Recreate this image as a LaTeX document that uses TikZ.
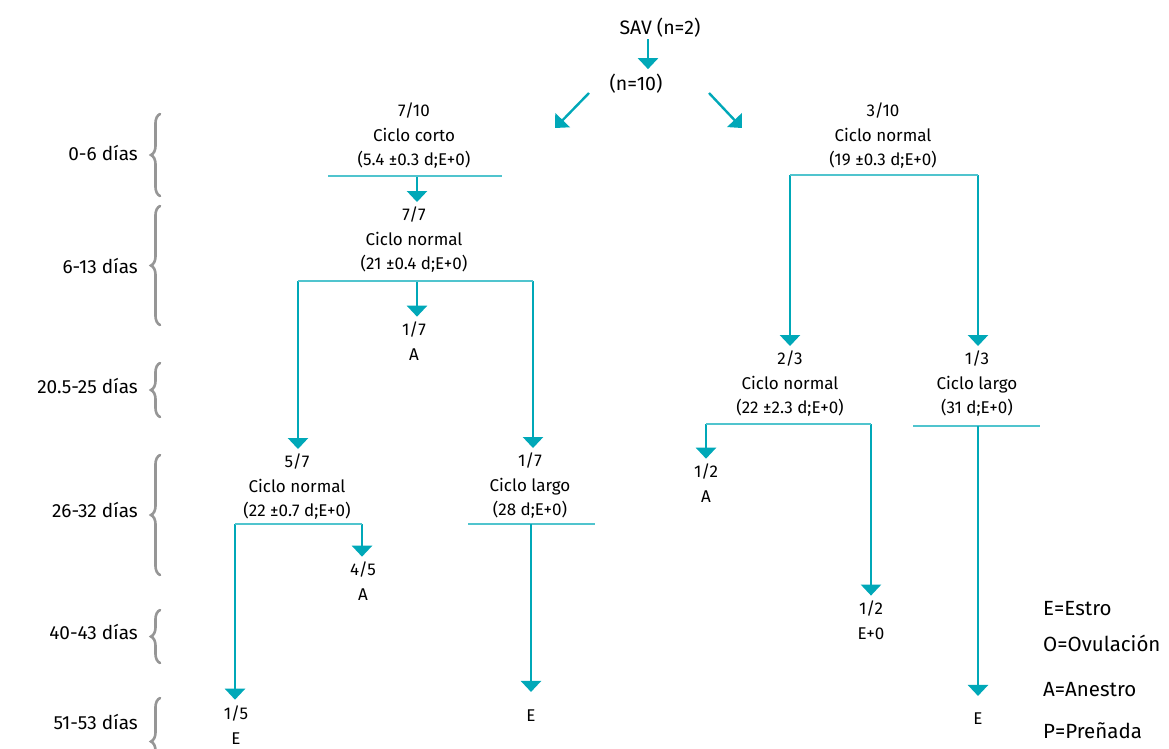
\documentclass[tikz,border=0pt]{standalone}
\usepackage{fontspec}
\setmainfont{Fira Sans}
\usetikzlibrary{arrows.meta,decorations.pathreplacing}
\definecolor{teal1}{RGB}{0,168,184}
\definecolor{teal2}{RGB}{80,196,206}
\definecolor{brgray}{RGB}{150,150,150}
\begin{document}
\begin{tikzpicture}[x=1pt,y=-1pt,
  txt/.style={font=\fontsize{17}{24.5}\selectfont, align=center, inner sep=2pt},
  toptxt/.style={font=\fontsize{19.5}{22}\selectfont, align=center, inner sep=2pt},
  arr/.style={draw=teal1, line width=2.4pt, -{Triangle[width=20pt,length=11pt]}},
  bar/.style={draw=teal2, line width=2.4pt},
  brc/.style={draw=brgray, line width=2.6pt, line cap=round, decorate, decoration={brace, amplitude=9pt}},
  day/.style={font=\fontsize{19}{20}\selectfont, anchor=east, inner sep=0pt},
  leg/.style={font=\fontsize{20.5}{22}\selectfont, anchor=west, inner sep=0pt}]
\useasboundingbox (0,0) rectangle (1169,748);

% nodes
\node[toptxt] (sav) at (660,28) {SAV (n=2)};
\node[toptxt] (n10) at (636,84) {(n=10)};
\node[txt] (left1) at (414,136) {7/10\\Ciclo corto\\(5.4 ±0.3 d;E+0)};
\node[txt] (n77) at (414,240) {7/7\\Ciclo normal\\(21 ±0.4 d;E+0)};
\node[txt] (a17) at (414,341) {1/7\\A};
\node[txt] (n57) at (297,487) {5/7\\Ciclo normal\\(22 ±0.7 d;E+0)};
\node[txt] (a45) at (363,581) {4/5\\A};
\node[txt] (e15) at (236,725) {1/5\\E};
\node[txt] (l17) at (530,486) {1/7\\Ciclo largo\\(28 d;E+0)};
\node[txt] (e28) at (531,716) {E};
\node[txt] (r310) at (883,136) {3/10\\Ciclo normal\\(19 ±0.3 d;E+0)};
\node[txt] (n23) at (790,384) {2/3\\Ciclo normal\\(22 ±2.3 d;E+0)};
\node[txt] (l13) at (977,384) {1/3\\Ciclo largo\\(31 d;E+0)};
\node[txt] (a12) at (706,483) {1/2\\A};
\node[txt] (e12) at (871,620) {1/2\\E+0};
\node[txt] (e31) at (978,719) {E};

% legend
\node[leg] (lgE) at (1043,609) {E=Estro};
\node[leg] (lgO) at (1043,643) {O=Ovulación};
\node[leg] (lgA) at (1043,690) {A=Anestro};
\node[leg] (lgP) at (1043,731) {P=Preñada};

% day labels
\node[day] (d1) at (138,153) {0-6 días};
\node[day] (d2) at (138,266) {6-13 días};
\node[day] (d3) at (138,386) {20.5-25 días};
\node[day] (d4) at (138,510) {26-32 días};
\node[day] (d5) at (138,632) {40-43 días};
\node[day] (d6) at (138,722) {51-53 días};

% braces
\draw[brc] (160,196) -- (160,114);
\draw[brc] (160,325) -- (160,206);
\draw[brc] (160,417) -- (160,363);
\draw[brc] (160,575) -- (160,455);
\draw[brc] (160,663) -- (160,610);
\draw[brc] (160,785) -- (160,698);

% top arrows
\coordinate (s1) at (648,39);
\draw[arr] (s1) -- ([yshift=3pt]s1 |- n10.north);
\coordinate (dl0) at (589,93); \coordinate (dl1) at (555,128);
\coordinate (dr0) at (709,93); \coordinate (dr1) at (742,128);
\draw[arr] (dl0) -- (dl1);
\draw[arr] (dr0) -- (dr1);

% left branch
\coordinate (b1l) at (328,176); \coordinate (b1r) at (502,176);
\draw[bar] (b1l) -- (b1r);
\coordinate (b1c) at (417,177);
\draw[arr] (b1c) -- ([yshift=3pt]b1c |- n77.north);

\coordinate (b2l) at (298,281); \coordinate (b2r) at (533,281);
\draw[arr] (b2l) -- ([yshift=3pt]b2l |- n57.north);
\draw[arr] (b2r) -- ([yshift=3pt]b2r |- l17.north);
\draw[bar] (b2l) -- (b2r);
\coordinate (b2c) at (417,282);
\draw[arr] (b2c) -- ([yshift=3pt]b2c |- a17.north);

\coordinate (b3l) at (235,524); \coordinate (b3r) at (362,524);
\draw[arr] (b3l) -- ([yshift=4pt]b3l |- e15.north);
\draw[arr] (b3r) -- ([yshift=3pt]b3r |- a45.north);
\draw[bar] (b3l) -- (b3r);

\coordinate (b4l) at (468,524); \coordinate (b4r) at (595,524);
\draw[bar] (b4l) -- (b4r);
\coordinate (b4c) at (531,524);
\draw[arr] (b4c) -- ([yshift=16pt]b4c |- e28.north);

% right branch
\coordinate (b5l) at (790,175); \coordinate (b5r) at (978,175);
\draw[arr] (b5l) -- ([yshift=3pt]b5l |- n23.north);
\draw[arr] (b5r) -- ([yshift=3pt]b5r |- l13.north);
\draw[bar] (b5l) -- (b5r);

\coordinate (b6l) at (706,424); \coordinate (b6r) at (871,424);
\draw[arr] (b6l) -- ([yshift=3pt]b6l |- a12.north);
\draw[arr] (b6r) -- ([yshift=3pt]b6r |- e12.north);
\draw[bar] (b6l) -- (b6r);

\coordinate (b7l) at (913,426); \coordinate (b7r) at (1040,426);
\draw[bar] (b7l) -- (b7r);
\coordinate (b7c) at (978,426);
\draw[arr] (b7c) -- ([yshift=15pt]b7c |- e31.north);
\end{tikzpicture}
\end{document}
